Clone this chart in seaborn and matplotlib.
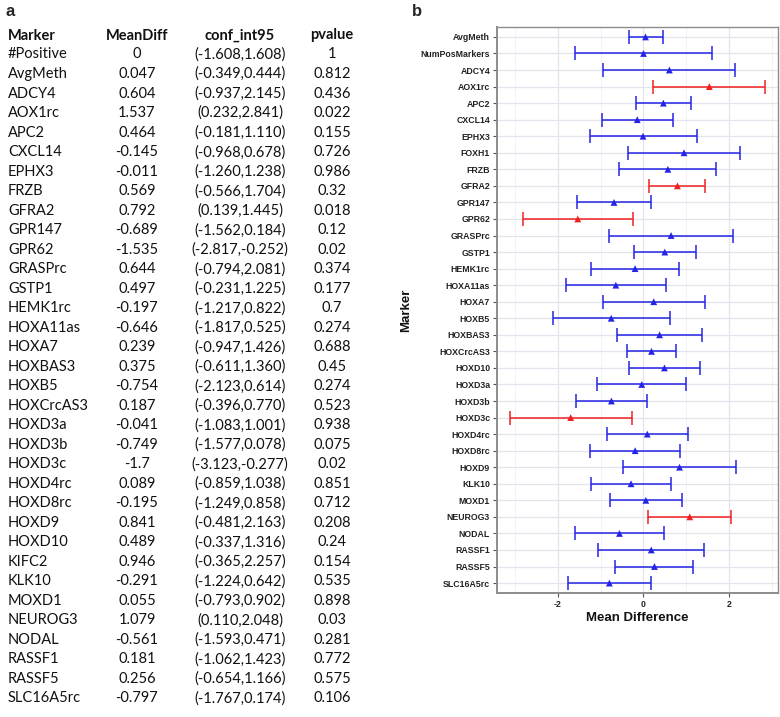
import matplotlib

matplotlib.use("Agg")

import matplotlib.pyplot as plt
import seaborn as sns
from matplotlib.ticker import MultipleLocator

# panel a: table
table_markers = [
    "#Positive", "AvgMeth", "ADCY4", "AOX1rc", "APC2", "CXCL14", "EPHX3", "FRZB",
    "GFRA2", "GPR147", "GPR62", "GRASPrc", "GSTP1", "HEMK1rc", "HOXA11as", "HOXA7",
    "HOXBAS3", "HOXB5", "HOXCrcAS3", "HOXD3a", "HOXD3b", "HOXD3c", "HOXD4rc",
    "HOXD8rc", "HOXD9", "HOXD10", "KIFC2", "KLK10", "MOXD1", "NEUROG3", "NODAL",
    "RASSF1", "RASSF5", "SLC16A5rc",
]
table_meandiff = [
    "0", "0.047", "0.604", "1.537", "0.464", "-0.145", "-0.011", "0.569", "0.792",
    "-0.689", "-1.535", "0.644", "0.497", "-0.197", "-0.646", "0.239", "0.375",
    "-0.754", "0.187", "-0.041", "-0.749", "-1.7", "0.089", "-0.195", "0.841",
    "0.489", "0.946", "-0.291", "0.055", "1.079", "-0.561", "0.181", "0.256", "-0.797",
]
table_ci = [
    "(-1.608,1.608)", "(-0.349,0.444)", "(-0.937,2.145)", "(0.232,2.841)",
    "(-0.181,1.110)", "(-0.968,0.678)", "(-1.260,1.238)", "(-0.566,1.704)",
    "(0.139,1.445)", "(-1.562,0.184)", "(-2.817,-0.252)", "(-0.794,2.081)",
    "(-0.231,1.225)", "(-1.217,0.822)", "(-1.817,0.525)", "(-0.947,1.426)",
    "(-0.611,1.360)", "(-2.123,0.614)", "(-0.396,0.770)", "(-1.083,1.001)",
    "(-1.577,0.078)", "(-3.123,-0.277)", "(-0.859,1.038)", "(-1.249,0.858)",
    "(-0.481,2.163)", "(-0.337,1.316)", "(-0.365,2.257)", "(-1.224,0.642)",
    "(-0.793,0.902)", "(0.110,2.048)", "(-1.593,0.471)", "(-1.062,1.423)",
    "(-0.654,1.166)", "(-1.767,0.174)",
]
table_pvalue = [
    "1", "0.812", "0.436", "0.022", "0.155", "0.726", "0.986", "0.32", "0.018",
    "0.12", "0.02", "0.374", "0.177", "0.7", "0.274", "0.688", "0.45", "0.274",
    "0.523", "0.938", "0.075", "0.02", "0.851", "0.712", "0.208", "0.24", "0.154",
    "0.535", "0.898", "0.03", "0.281", "0.772", "0.575", "0.106",
]

# panel b: forest plot
plot_markers = [
    "AvgMeth", "NumPosMarkers", "ADCY4", "AOX1rc", "APC2", "CXCL14", "EPHX3",
    "FOXH1", "FRZB", "GFRA2", "GPR147", "GPR62", "GRASPrc", "GSTP1", "HEMK1rc",
    "HOXA11as", "HOXA7", "HOXB5", "HOXBAS3", "HOXCrcAS3", "HOXD10", "HOXD3a",
    "HOXD3b", "HOXD3c", "HOXD4rc", "HOXD8rc", "HOXD9", "KLK10", "MOXD1",
    "NEUROG3", "NODAL", "RASSF1", "RASSF5", "SLC16A5rc",
]
plot_mean = [
    0.047, 0.0, 0.604, 1.537, 0.464, -0.145, -0.011, 0.946, 0.569, 0.792, -0.689,
    -1.535, 0.644, 0.497, -0.197, -0.646, 0.239, -0.754, 0.375, 0.187, 0.489,
    -0.041, -0.749, -1.7, 0.089, -0.195, 0.841, -0.291, 0.055, 1.079, -0.561,
    0.181, 0.256, -0.797,
]
plot_lo = [
    -0.349, -1.608, -0.937, 0.232, -0.181, -0.968, -1.260, -0.365, -0.566, 0.139,
    -1.562, -2.817, -0.794, -0.231, -1.217, -1.817, -0.947, -2.123, -0.611, -0.396,
    -0.337, -1.083, -1.577, -3.123, -0.859, -1.249, -0.481, -1.224, -0.793, 0.110,
    -1.593, -1.062, -0.654, -1.767,
]
plot_hi = [
    0.444, 1.608, 2.145, 2.841, 1.110, 0.678, 1.238, 2.257, 1.704, 1.445, 0.184,
    -0.252, 2.081, 1.225, 0.822, 0.525, 1.426, 0.614, 1.360, 0.770, 1.316, 1.001,
    0.078, -0.277, 1.038, 0.858, 2.163, 0.642, 0.902, 2.048, 0.471, 1.423, 1.166,
    0.174,
]
plot_sig = [
    False, False, False, True, False, False, False, False, False, True, False,
    True, False, False, False, False, False, False, False, False, False, False,
    False, True, False, False, False, False, False, True, False, False, False,
    False,
]

BLUE = "#2424E6"
RED = "#F02020"

sns.set_theme(style="whitegrid")
plt.rcParams["font.family"] = ["Liberation Sans", "DejaVu Sans"]
plt.rcParams["axes.unicode_minus"] = False

fig = plt.figure(figsize=(7.8, 7.17), dpi=100)
W, H = 780, 717

# table text
tfont = dict(family="Lato", fontsize=10.5, color="#111111")
fig.text(5 / W, 1 - 11 / H, "a", fontsize=12, fontweight="bold", va="center", family="Liberation Sans")
fig.text(412 / W, 1 - 11 / H, "b", fontsize=12, fontweight="bold", va="center", family="Liberation Sans")
y0 = 35.5
fig.text(8 / W, 1 - y0 / H, "Marker", ha="left", va="center", fontweight="bold", **tfont)
fig.text(137 / W, 1 - y0 / H, "MeanDiff", ha="center", va="center", fontweight="bold", **tfont)
fig.text(240 / W, 1 - y0 / H, "conf_int95", ha="center", va="center", fontweight="bold", **tfont)
fig.text(332 / W, 1 - y0 / H, "pvalue", ha="center", va="center", fontweight="bold", **tfont)
for i, (m, d, c, p) in enumerate(zip(table_markers, table_meandiff, table_ci, table_pvalue)):
    y = 1 - (54.5 + i * 19.51) / H
    fig.text(8 / W, y, m, ha="left", va="center", **tfont)
    fig.text(137 / W, y, d, ha="center", va="center", **tfont)
    fig.text(240 / W, y, c, ha="center", va="center", **tfont)
    fig.text(332 / W, y, p, ha="center", va="center", **tfont)

# forest plot
ax = fig.add_axes([497 / W, 1 - 593 / H, (778 - 497) / W, (593 - 27) / H])
ax.set_facecolor("white")
ypos = list(range(len(plot_markers)))
for sig, col in [(False, BLUE), (True, RED)]:
    idx = [i for i, s in enumerate(plot_sig) if s == sig]
    ax.errorbar(
        [plot_mean[i] for i in idx],
        [ypos[i] for i in idx],
        xerr=[[plot_mean[i] - plot_lo[i] for i in idx], [plot_hi[i] - plot_mean[i] for i in idx]],
        fmt="none", ecolor=col, elinewidth=1.1, capsize=5, capthick=1.1, zorder=3,
    )
sns.scatterplot(
    x=plot_mean, y=ypos, hue=plot_sig, palette={False: BLUE, True: RED},
    marker="^", s=24, edgecolor="none", legend=False, ax=ax, zorder=4,
)

ax.set_ylim(len(plot_markers) - 0.4, -0.6)
ax.set_xlim(-3.42, 3.14)
ax.set_yticks(ypos)
ax.set_yticklabels(plot_markers)
ax.xaxis.set_major_locator(MultipleLocator(2))
ax.xaxis.set_minor_locator(MultipleLocator(1))
ax.grid(which="major", color="#E4E4EE", linewidth=0.9)
ax.grid(which="minor", axis="x", color="#F0F0F6", linewidth=0.6)
for s in ax.spines.values():
    s.set_color("#8C8C8C")
    s.set_linewidth(1.0)
ax.spines["left"].set_linewidth(1.4)
ax.spines["bottom"].set_linewidth(1.4)
ax.tick_params(axis="both", which="major", length=3, width=0.8, color="#555555",
               labelsize=6.3, pad=2, left=True, bottom=True)
ax.tick_params(axis="x", which="minor", length=0)
for lab in ax.get_yticklabels() + ax.get_xticklabels():
    lab.set_fontweight("bold")
    lab.set_color("#222222")
ax.set_xlabel("Mean Difference", fontsize=9.5, fontweight="bold", labelpad=2, color="#111111")
ax.set_ylabel("Marker", fontsize=9.5, fontweight="bold", labelpad=6, color="#111111")

fig.savefig("out.png", dpi=100)
